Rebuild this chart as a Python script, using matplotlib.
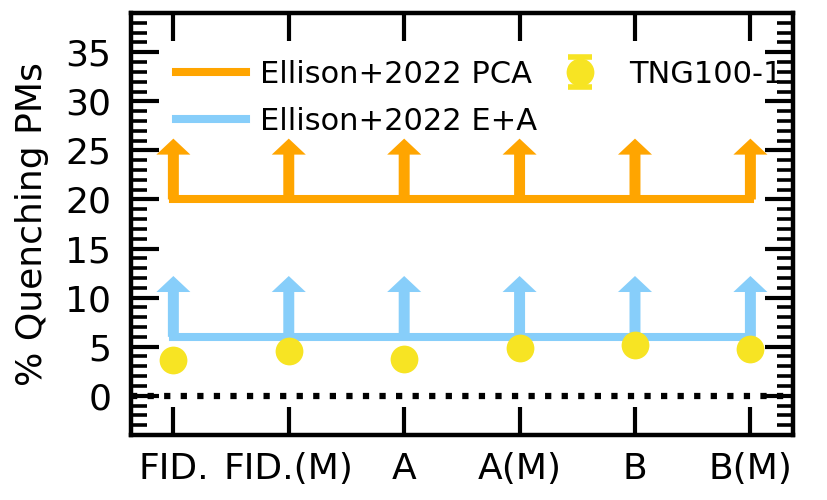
import matplotlib
matplotlib.use("Agg")
import matplotlib.pyplot as plt
import numpy as np
from matplotlib.lines import Line2D
from matplotlib.path import Path
from matplotlib.legend_handler import HandlerTuple

# categories (x axis)
labels = ["FID.", "FID.(M)", "A", "A(M)", "B", "B(M)"]

# Ellison+2022 lower limits
pca_limit = [20, 20, 20, 20, 20, 20]
ea_limit = [6, 6, 6, 6, 6, 6]

# TNG100-1 quenching fractions
tng_frac = [3.65, 4.6, 3.75, 4.9, 5.2, 4.8]
tng_err = [0.3, 0.3, 0.3, 0.3, 0.3, 0.3]

c_pca = "orange"
c_ea = "lightskyblue"
c_tng = "#f7e423"

x = np.arange(len(labels))

fig = plt.figure(figsize=(8.27, 5.0), dpi=100)
ax = fig.add_axes([0.158, 0.13, 0.801, 0.844])

# zero line
ax.axhline(0, color="black", ls=":", lw=4.5, zorder=1)

# limit lines + upward arrows
l_pca, = ax.plot(x, pca_limit, color=c_pca, lw=5.8, label="Ellison+2022 PCA", zorder=2)
l_ea, = ax.plot(x, ea_limit, color=c_ea, lw=5.8, label="Ellison+2022 E+A", zorder=2)
for xi, yp, ye in zip(x, pca_limit, ea_limit):
    ax.arrow(xi, yp, 0, 6.2, width=0.095, head_width=0.295, head_length=1.63,
             length_includes_head=True, color=c_pca, lw=0, zorder=2)
    ax.arrow(xi, ye, 0, 6.2, width=0.095, head_width=0.295, head_length=1.63,
             length_includes_head=True, color=c_ea, lw=0, zorder=2)

# TNG points
ax.errorbar(x, tng_frac, yerr=tng_err, fmt="o", color=c_tng, ms=20, mew=0,
            elinewidth=3, capsize=9, capthick=4, zorder=3)

# legend handle for the errorbar symbol (caps + bar + dot)
cap_path = Path([(-0.83, 1), (0.83, 1), (0, 1), (0, -1), (-0.83, -1), (0.83, -1)],
                [Path.MOVETO, Path.LINETO, Path.MOVETO, Path.LINETO,
                 Path.MOVETO, Path.LINETO])
h_caps = Line2D([], [], ls="none", marker=cap_path, ms=21.6, mew=4,
                mec=c_tng, mfc="none")
h_dot = Line2D([], [], ls="none", marker="o", ms=20, mew=0, color=c_tng)

ax.set_xlim(-0.37, 5.37)
ax.set_ylim(-4, 39)
ax.set_xticks(x)
ax.set_xticklabels(labels)
ax.set_yticks(np.arange(0, 40, 5))
ax.set_yticks(np.arange(-4, 40, 1), minor=True)
ax.set_ylabel("% Quenching PMs", fontsize=26, labelpad=12)

ax.tick_params(axis="both", which="major", direction="in", length=20, width=3,
               labelsize=26, top=True, right=True)
ax.tick_params(axis="x", which="major", pad=12)
ax.tick_params(axis="y", which="major", pad=14)
ax.tick_params(axis="y", which="minor", direction="in", length=11.5, width=2.6,
               right=True)
ax.tick_params(axis="x", which="minor", bottom=False, top=False)
for sp in ax.spines.values():
    sp.set_linewidth(3.2)

ax.legend([l_pca, l_ea, (h_caps, h_dot)],
          ["Ellison+2022 PCA", "Ellison+2022 E+A", "TNG100-1"],
          ncol=2, frameon=False, fontsize=22, loc="upper left",
          bbox_to_anchor=(0.0685, 0.889), borderaxespad=0, borderpad=0,
          handlelength=2.3, handletextpad=0.45, columnspacing=0.25,
          labelspacing=0.6, handler_map={tuple: HandlerTuple(ndivide=1)})

fig.savefig("out.png", dpi=100)
